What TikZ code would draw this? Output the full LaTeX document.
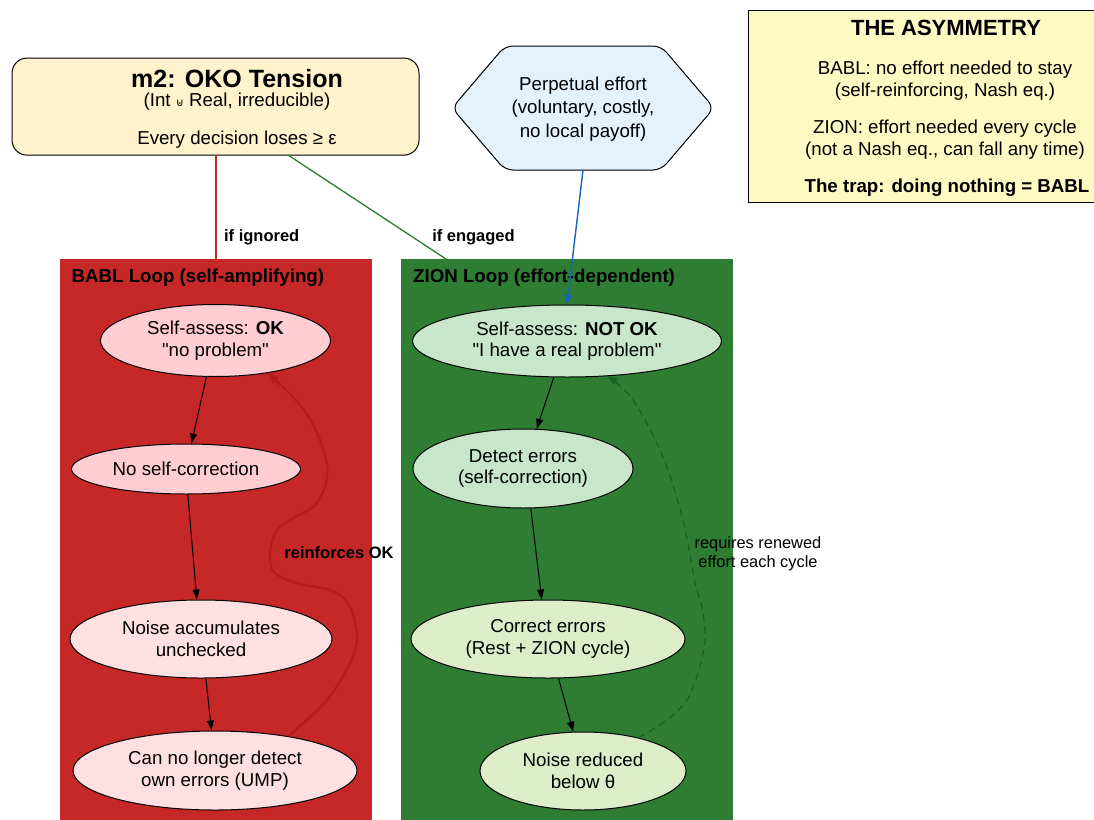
\documentclass[tikz,border=0pt]{standalone}
\usepackage{fontspec}
\setmainfont{Liberation Sans}[Ligatures=TeXOff]
\newfontfamily\dejavu{DejaVu Sans}
\usetikzlibrary{shapes.geometric,arrows.meta}
\definecolor{bablred}{HTML}{C62828}
\definecolor{ziongreen}{HTML}{2E7D32}
\definecolor{pinkA}{HTML}{FFCDD2}
\definecolor{pinkB}{HTML}{FFE0E2}
\definecolor{greenA}{HTML}{C8E6C9}
\definecolor{greenB}{HTML}{DCEDC8}
\definecolor{okofill}{HTML}{FFF2CC}
\definecolor{asymfill}{HTML}{FFF9C4}
\definecolor{perpfill}{HTML}{E3F2FD}
\definecolor{blueline}{HTML}{1565C0}
\definecolor{reinfred}{HTML}{B71C1C}
\definecolor{dashgreen}{HTML}{1B5E20}
\newcommand\myfs[2]{\fontsize{#1}{#2}\selectfont}
\begin{document}
\begin{tikzpicture}[x=1pt,y=-1pt,
  ell/.style={ellipse, draw=black, line width=1pt, inner sep=0pt, align=center, font=\myfs{18.7}{21.5}},
  txt/.style={inner sep=0pt, align=center, font=\myfs{18.7}{21.5}},
  btxt/.style={inner sep=0pt, align=center, font=\myfs{18.7}{21.5}\bfseries},
  elabel/.style={inner sep=0pt, align=center, font=\myfs{16.5}{19}\bfseries},
  cluster/.style={inner sep=0pt, minimum width=312pt, minimum height=566pt},
  arr/.style={-{Triangle[length=10pt,width=7pt]}, line width=1pt, draw=black},
]
\useasboundingbox (0,0) rectangle (1094,819);
\clip (0,0) rectangle (1094,819);
\fill[white] (0,0) rectangle (1094,819);

% clusters
\node[cluster, fill=bablred] (babl) at (216,542) {};
\node[cluster, fill=ziongreen, minimum width=332pt] (zion) at (567,542) {};
\node[btxt, anchor=west] (babltitle) at (71.5,278) {BABL Loop (self-amplifying)};
\node[btxt, anchor=west] (ziontitle) at (413,278) {ZION Loop (effort-dependent)};

% top nodes
\node[draw=black, line width=1pt, fill=okofill, rounded corners=15pt, minimum width=407pt, minimum height=97pt, inner sep=0pt] (oko) at (215.5,106.6) {};
\node[inner sep=0pt, font=\myfs{25}{28}\bfseries] (okotitle) at (237,79) {m2: OKO Tension};
\node[txt] (okosub) at (237,102) {(Int {\dejavu\myfs{11}{11}⊎} Real, irreducible)};
\node[txt] (okoloss) at (237,140) {Every decision loses ≥ ε};

\draw[line width=1pt, fill=perpfill, rounded corners=8pt]
  (452,108) -- (505,46) -- (661,46) -- (714,108) -- (661,170) -- (505,170) -- cycle;
\node[inner sep=0pt, minimum width=262pt, minimum height=124pt] (perp) at (583,108) {};
\node[txt, font=\myfs{18.7}{23.4}] (perptext) at (583,109) {Perpetual effort\\(voluntary, costly,\\no local payoff)};

\node[draw=black, line width=1pt, fill=asymfill, inner sep=0pt, minimum width=360pt, minimum height=192pt] (asym) at (928,106) {};
\node[inner sep=0pt, font=\myfs{22}{24}\bfseries] (asymtitle) at (946,28) {THE ASYMMETRY};
\node[txt] (asymbabl) at (945,80.5) {BABL: no effort needed to stay\\(self-reinforcing, Nash eq.)};
\node[txt] (asymzion) at (945,139.5) {ZION: effort needed every cycle\\(not a Nash eq., can fall any time)};
\node[btxt] (asymtrap) at (947,188) {The trap: doing nothing = BABL};

% BABL nodes
\node[ell, fill=pinkA, minimum width=230pt, minimum height=72pt] (b1) at (215.5,340.5) {Self-assess: \textbf{OK}\\"no problem"};
\node[ell, fill=pinkA, minimum width=229pt, minimum height=50pt] (b2) at (186,469) {No self-correction};
\node[ell, fill=pinkB, minimum width=262pt, minimum height=78pt] (b3) at (201,639) {Noise accumulates\\unchecked};
\node[ell, fill=pinkB, minimum width=284pt, minimum height=79pt] (b4) at (215,770.5) {Can no longer detect\\own errors (UMP)};

% ZION nodes
\node[ell, fill=greenA, minimum width=309pt, minimum height=72pt] (z1) at (567,341) {Self-assess: \textbf{NOT OK}\\"I have a real problem"};
\node[ell, fill=greenA, minimum width=220pt, minimum height=79pt] (z2) at (523,468.5) {Detect errors\\(self-correction)};
\node[ell, fill=greenB, minimum width=274pt, minimum height=78pt] (z3) at (548,639) {Correct errors\\(Rest + ZION cycle)};
\node[ell, fill=greenB, minimum width=206pt, minimum height=78pt] (z4) at (583,771) {Noise reduced\\below θ};

% connectors from top
\coordinate (okoR) at (216,155);
\coordinate (babltop) at (216,259);
\coordinate (okoG) at (288,155);
\coordinate (ziontop) at (446,259);
\draw[bablred, line width=1.3pt] (okoR) -- (babltop);
\draw[ziongreen, line width=1.3pt] (okoG) -- (ziontop);
\node[elabel] (lign) at (261.7,237) {if ignored};
\node[elabel] (leng) at (473.5,237) {if engaged};
\draw[-{Triangle[length=10pt,width=7pt]}, line width=1.4pt, blueline] (perp.south) -- (z1.north);

% BABL chain
\draw[arr] (b1.-104) -- (b2.78);
\draw[arr] (b2.-86) -- (b3.96);
\draw[arr] (b3.-83) -- (b4.95);
\draw[reinfred, line width=2.4pt, -{Triangle[length=11pt,width=8pt]}]
  plot[smooth, tension=0.55] coordinates {(b4.25) (327,700) (350,663) (357,637) (350,607) (333,591) (296,583) (274,572) (270,553) (277,530) (295,517) (314,506) (325,487) (327,466) (320,440) (307,414) (290,394) (b1.-32)};
\node[elabel] (lreinf) at (339,553) {reinforces OK};

% ZION chain
\draw[arr] (z1.-110) -- (z2.71);
\draw[arr] (z2.-79) -- (z3.99);
\draw[arr] (z3.-75) -- (z4.104);
\draw[dashgreen, line width=1.1pt, dash pattern=on 7pt off 5pt, -{Triangle[length=10pt,width=7pt]}]
  plot[smooth, tension=0.55] coordinates {(z4.31) (667,720) (687,700) (698,673) (705,640) (702,607) (695,583) (683,520) (663,457) (633,400) (z1.-41)};
\node[txt, font=\myfs{16.4}{19}] (lreq) at (758,554) {requires renewed\\effort each cycle};
\end{tikzpicture}
\end{document}
